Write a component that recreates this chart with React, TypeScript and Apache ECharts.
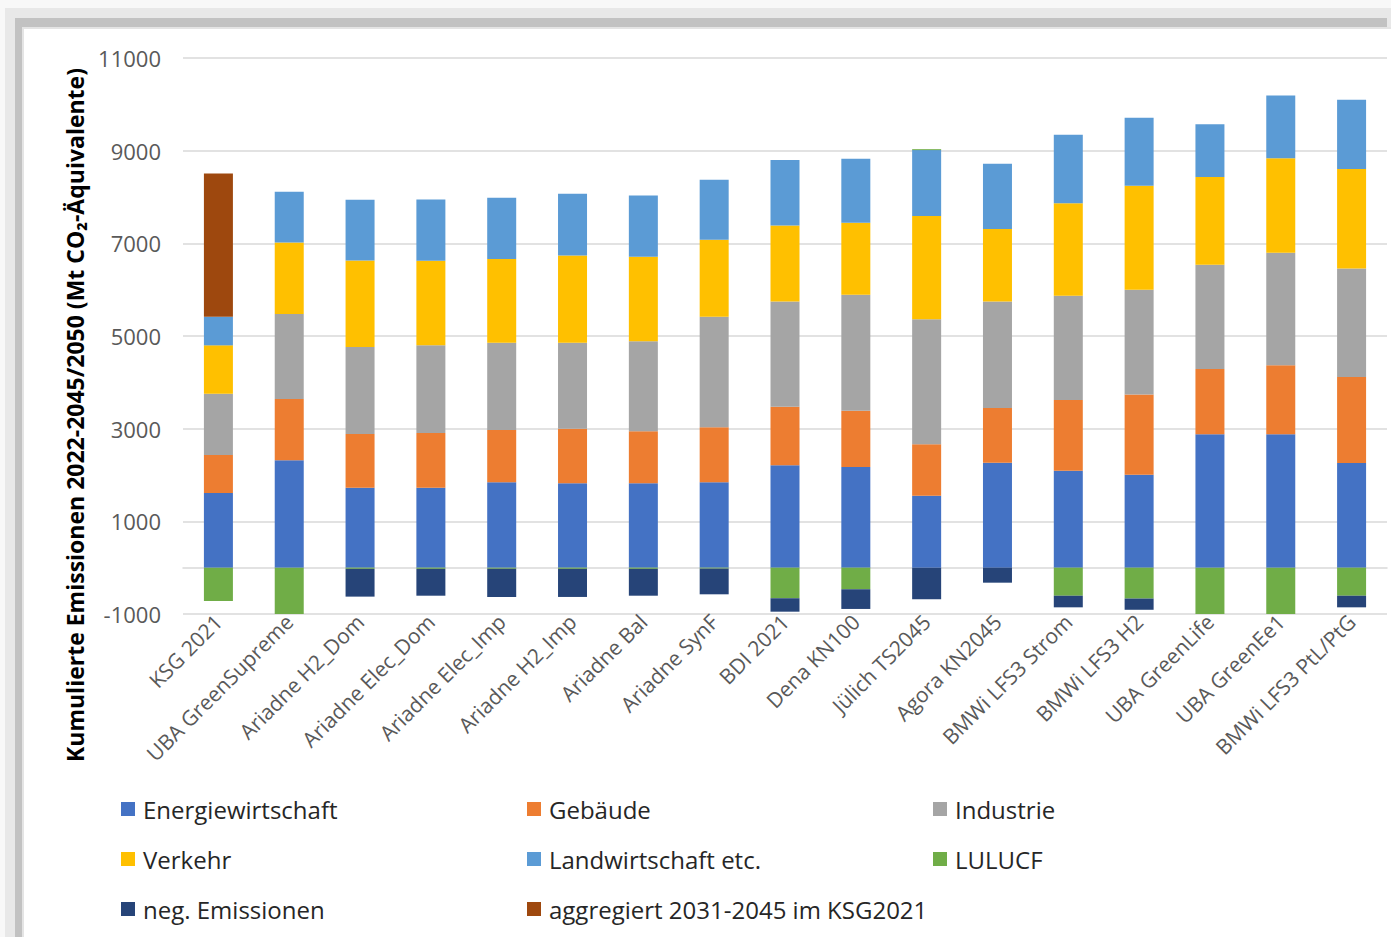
import React, { useEffect, useRef } from "react";
import * as echarts from "echarts";

const categories = [
  "KSG 2021", "UBA GreenSupreme", "Ariadne H2_Dom", "Ariadne Elec_Dom", "Ariadne Elec_Imp",
  "Ariadne H2_Imp", "Ariadne Bal", "Ariadne SynF", "BDI 2021", "Dena KN100", "Jülich TS2045",
  "Agora KN2045", "BMWi LFS3 Strom", "BMWi LFS3 H2", "UBA GreenLife", "UBA GreenEe1", "BMWi LFS3 PtL/PtG",
];
const energiewirtschaft = [1612, 2317, 1726, 1726, 1842, 1821, 1821, 1842, 2209, 2173, 1553, 2265, 2091, 2008, 2879, 2879, 2258];
const gebaeude = [819, 1323, 1159, 1180, 1129, 1178, 1122, 1187, 1265, 1214, 1109, 1180, 1530, 1727, 1409, 1492, 1856];
const industrie = [1323, 1834, 1877, 1892, 1884, 1856, 1941, 2386, 2273, 2503, 2697, 2302, 2250, 2265, 2250, 2425, 2341];
const verkehr = [1044, 1546, 1870, 1825, 1805, 1885, 1826, 1662, 1640, 1553, 2229, 1560, 1993, 2243, 1894, 2038, 2151];
const landwirtschaft = [617, 1092, 1308, 1325, 1323, 1329, 1324, 1294, 1409, 1382, 1424, 1409, 1477, 1469, 1136, 1356, 1493];
const lulucf = [-720, -1000, -25, -25, -25, -25, -25, -20, -660, -466, 20, null, -606, -667, -1000, -1000, -606];
const negEmissionen = [null, null, -600, -580, -607, -607, -580, -555, -290, -425, -682, -324, -250, -242, null, null, -250];
const aggregiert = [3094, null, null, null, null, null, null, null, null, null, null, null, null, null, null, null, null];
const yTicks = { min: -1000, max: 11000, interval: 2000 };
const yTitle = "Kumulierte Emissionen 2022-2045/2050 (Mt CO₂-Äquivalente)";

const FONT = "'Open Sans', Lato, sans-serif";

export default function App() {
  const ref = useRef<HTMLDivElement>(null);
  useEffect(() => {
    if (!ref.current) return;
    const chart = echarts.init(ref.current, null, { renderer: "svg" });
    const mk = (name: string, data: any[], color: string) => ({
      name,
      type: "bar",
      stack: "total",
      data,
      barWidth: 29,
      itemStyle: { color },
    });
    const legendBase = {
      orient: "vertical",
      itemWidth: 14,
      itemHeight: 14,
      itemGap: 26,
      icon: "rect",
      textStyle: { fontFamily: FONT, fontSize: 24, color: "#262626", lineHeight: 24, padding: [0, 0, 0, 3] },
      selectedMode: false,
    };
    chart.setOption({
      animation: false,
      backgroundColor: "#ffffff",
      graphic: [
        { type: "rect", z: -10, shape: { x: 0, y: 0, width: 1391, height: 937 }, style: { fill: "#f8f8f8" }, silent: true },
        { type: "rect", z: -9, shape: { x: 5, y: 8, width: 1391, height: 937 }, style: { fill: "#e8e8e8" }, silent: true },
        { type: "rect", z: -8, shape: { x: 15, y: 18, width: 1372, height: 937 }, style: { fill: "#c2c2c2" }, silent: true },
        { type: "rect", z: -7, shape: { x: 22, y: 27, width: 1391, height: 937 }, style: { fill: "#e4e4e4" }, silent: true },
        { type: "rect", z: -6, shape: { x: 24, y: 29, width: 1391, height: 937 }, style: { fill: "#ffffff" }, silent: true },
        {
          type: "text",
          x: 75,
          y: 415,
          rotation: Math.PI / 2,
          style: {
            text: yTitle,
            fontFamily: FONT,
            fontSize: 23,
            fontWeight: "bold",
            fill: "#000000",
            align: "center",
            verticalAlign: "middle",
          },
        },
      ],
      grid: { left: 183, right: 4, top: 58, bottom: 323 },
      legend: [
        { ...legendBase, left: 116, top: 792, data: ["Energiewirtschaft", "Verkehr", "neg. Emissionen"] },
        { ...legendBase, left: 522, top: 792, data: ["Gebäude", "Landwirtschaft etc.", "aggregiert 2031-2045 im KSG2021"] },
        { ...legendBase, left: 928, top: 792, data: ["Industrie", "LULUCF"] },
      ],
      xAxis: {
        type: "category",
        data: categories,
        axisLine: { onZero: true, lineStyle: { color: "#d9d9d9", width: 1.5 } },
        axisTick: { show: false },
        axisLabel: {
          interval: 0,
          rotate: 45,
          color: "#595959",
          fontFamily: FONT,
          fontSize: 21,
          margin: 4,
        },
      },
      yAxis: {
        type: "value",
        min: yTicks.min,
        max: yTicks.max,
        interval: yTicks.interval,
        axisLine: { show: false },
        axisTick: { show: false },
        splitLine: { lineStyle: { color: "#d9d9d9", width: 1.5 } },
        axisLabel: {
          color: "#595959",
          fontFamily: FONT,
          fontSize: 22,
          margin: 22,
          formatter: (v: number) => String(v),
        },
      },
      series: [
        mk("Energiewirtschaft", energiewirtschaft, "#4472C4"),
        mk("Gebäude", gebaeude, "#ED7D31"),
        mk("Industrie", industrie, "#A5A5A5"),
        mk("Verkehr", verkehr, "#FFC000"),
        mk("Landwirtschaft etc.", landwirtschaft, "#5B9BD5"),
        mk("LULUCF", lulucf, "#70AD47"),
        mk("neg. Emissionen", negEmissionen, "#264478"),
        mk("aggregiert 2031-2045 im KSG2021", aggregiert, "#9E480E"),
      ],
    });
    return () => chart.dispose();
  }, []);
  return (
    <div
      ref={ref}
      style={{ position: "absolute", left: 0, top: 0, width: 1391, height: 937 }}
    />
  );
}
